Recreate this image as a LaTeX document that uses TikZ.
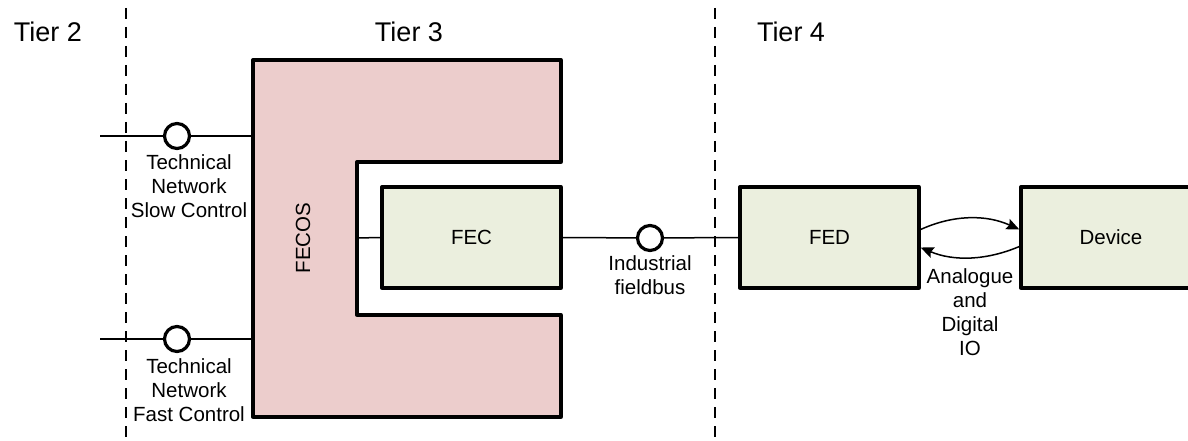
\documentclass[tikz,border=0pt]{standalone}
\usepackage{fontspec}
\setmainfont{Liberation Sans}
\usetikzlibrary{arrows.meta}
\definecolor{fecospink}{RGB}{236,205,204}
\definecolor{boxgreen}{RGB}{235,239,222}
\begin{document}
\begin{tikzpicture}[x=1pt,y=-1pt,
  small/.style={font=\fontsize{20.5}{24}\selectfont, inner sep=0pt, align=center},
  tier/.style={font=\fontsize{27}{32}\selectfont, inner sep=0pt, anchor=base},
  tierline/.style={line width=1.5pt, dash pattern=on 11pt off 8pt},
  wire/.style={line width=1.5pt},
  port/.style={circle, draw, line width=3.2pt, fill=white, minimum size=25pt, inner sep=0pt},
  blockbox/.style={draw, line width=3.3pt, fill=boxgreen, line join=round, minimum width=179pt, minimum height=101pt, font=\fontsize{20.5}{24}\selectfont},
  ioarrow/.style={line width=1.5pt, -{Stealth[length=13pt, width=11pt, inset=2pt]}}
]
\clip (0,0) rectangle (1188,441);
\fill[white] (0,0) rectangle (1188,441);

% tier separators
\coordinate (d1top) at (126,8);
\coordinate (d1bot) at (126,441);
\coordinate (d2top) at (715,8);
\coordinate (d2bot) at (715,441);
\draw[tierline] (d1top) -- (d1bot);
\draw[tierline] (d2top) -- (d2bot);

% tier labels
\node[tier] (t2) at (48,42) {Tier 2};
\node[tier] (t3) at (409,42) {Tier 3};
\node[tier] (t4) at (791,42) {Tier 4};

% FECOS shape
\draw[line width=3.3pt, fill=fecospink, line join=round]
  (253,60) -- (561,60) -- (561,162) -- (357,162) -- (357,315) -- (561,315)
  -- (561,417) -- (253,417) -- cycle;
\node[small, rotate=90] (fecos) at (303,238) {FECOS};
\coordinate (fecosslow) at (253,136);
\coordinate (fecosfast) at (253,339);
\coordinate (fecosin) at (357,238);

% boxes
\node[blockbox] (fec) at (471.5,237.5) {FEC};
\node[blockbox] (fed) at (829.5,237.5) {FED};
\node[blockbox, minimum width=180pt] (dev) at (1111,237.5) {Device};

% technical network slow control
\coordinate (slowin) at (100,136);
\node[port] (slow) at (177,136) {};
\draw[wire] (slowin) -- (slow) -- (fecosslow);
\node[small, anchor=north] (slowlbl) at (189,154.5) {Technical\\Network\\Slow Control};

% technical network fast control
\coordinate (fastin) at (100,339);
\node[port] (fast) at (177,339) {};
\draw[wire] (fastin) -- (fast) -- (fecosfast);
\node[small, anchor=north] (fastlbl) at (189,358.5) {Technical\\Network\\Fast Control};

% FECOS to FEC
\draw[wire] (fecosin) -- (fec.west);

% industrial fieldbus
\node[port] (bus) at (650,238) {};
\draw[wire] (fec.east) -- (bus) -- (fed.west);
\node[small, anchor=north] (buslbl) at (650,255.5) {Industrial\\fieldbus};

% analogue and digital IO
\draw[ioarrow] ([yshift=8pt]fed.east) .. controls +(33,-15) and +(-33,-15) .. ([yshift=8pt]dev.west);
\draw[ioarrow] ([yshift=-9pt]dev.west) .. controls +(-33,14) and +(33,14) .. ([yshift=-10pt]fed.east);
\node[small, anchor=north] (iolbl) at (970,268.5) {Analogue\\and\\Digital\\IO};
\end{tikzpicture}
\end{document}
